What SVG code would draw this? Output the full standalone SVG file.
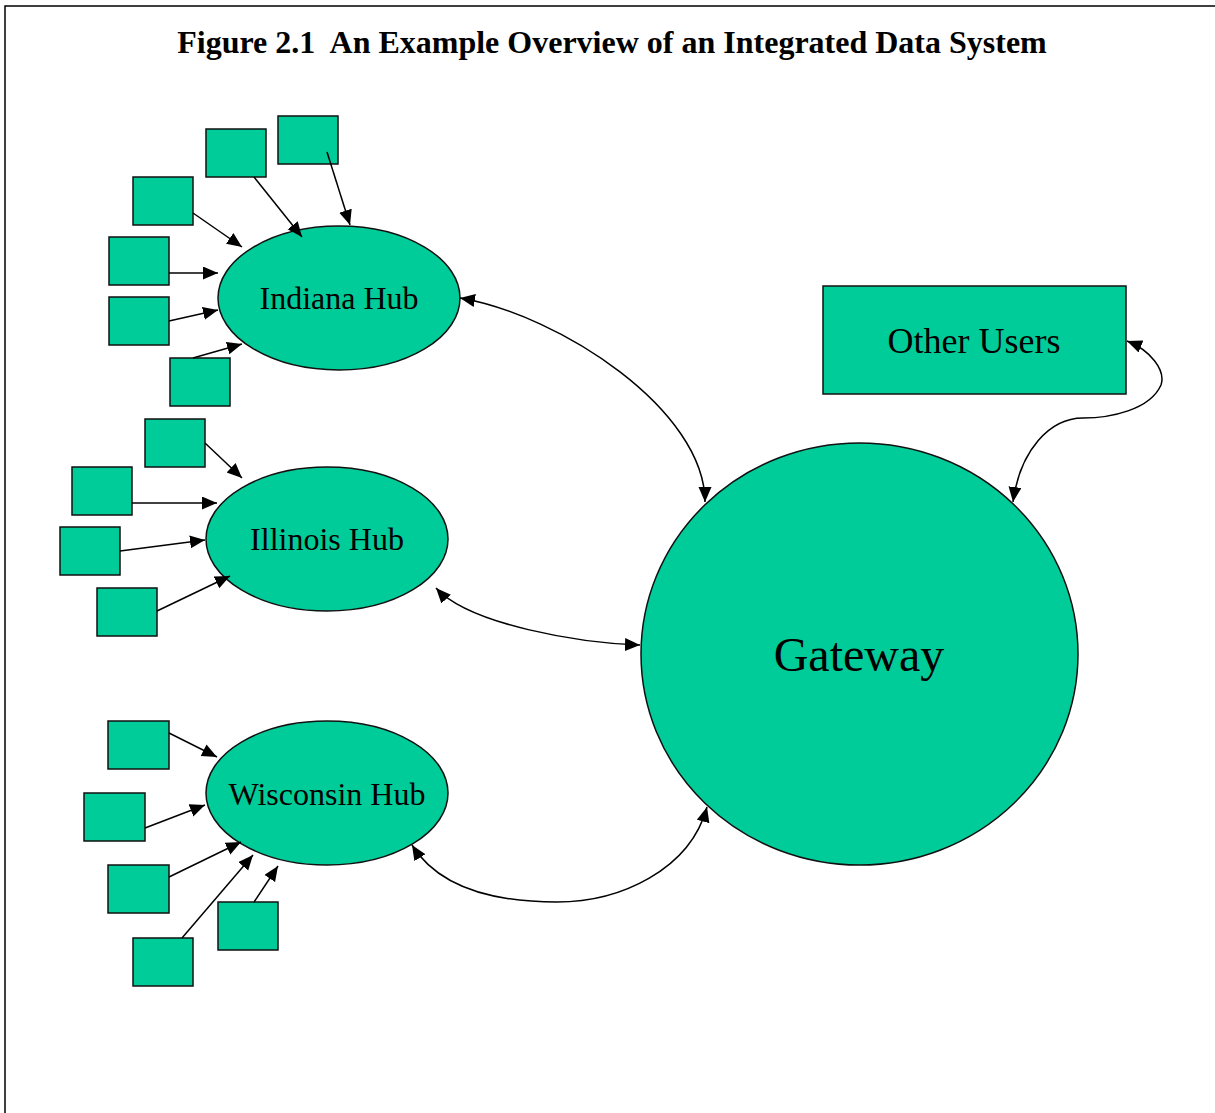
<svg xmlns="http://www.w3.org/2000/svg" width="1215" height="1113" viewBox="0 0 1215 1113">
<style>
.node{fill:#00CC99;stroke:#111;stroke-width:1.5}
.lbl{font-family:"Liberation Serif","Times New Roman",serif;fill:#000;text-anchor:middle}
.edge{fill:none;stroke:#000;stroke-width:1.5}
</style>
<defs>
<marker id="ah" markerUnits="userSpaceOnUse" markerWidth="16" markerHeight="14" refX="15" refY="6.5" orient="auto-start-reverse">
<path d="M0,0 L15,6.5 L0,13 z" fill="#000"/>
</marker>
</defs>
<rect x="0" y="0" width="1215" height="1113" fill="#fff"/>
<path d="M5,1113 V6 H1215" fill="none" stroke="#000" stroke-width="1.5"/>
<text x="612" y="53" class="lbl" font-size="32" font-weight="bold" style="white-space:pre">Figure 2.1  An Example Overview of an Integrated Data System</text>

<g id="indiana-hub"><ellipse class="node" cx="339" cy="298" rx="121" ry="72"/><text class="lbl" x="339" y="309" font-size="32">Indiana Hub</text></g>
<g id="illinois-hub"><ellipse class="node" cx="327" cy="539" rx="121" ry="72"/><text class="lbl" x="327" y="550" font-size="32">Illinois Hub</text></g>
<g id="wisconsin-hub"><ellipse class="node" cx="327" cy="793" rx="121" ry="72"/><text class="lbl" x="327" y="805" font-size="32">Wisconsin Hub</text></g>
<g id="gateway"><ellipse class="node" cx="859.5" cy="654" rx="218.5" ry="211"/><text class="lbl" x="859" y="671" font-size="48">Gateway</text></g>
<g id="other-users"><rect class="node" x="823" y="286" width="303" height="108"/><text class="lbl" x="974" y="353" font-size="36">Other Users</text></g>

<g id="in-src1"><rect class="node" x="206" y="129" width="60" height="48"/></g>
<g id="in-src2"><rect class="node" x="278" y="116" width="60" height="48"/></g>
<g id="in-src3"><rect class="node" x="133" y="177" width="60" height="48"/></g>
<g id="in-src4"><rect class="node" x="109" y="237" width="60" height="48"/></g>
<g id="in-src5"><rect class="node" x="109" y="297" width="60" height="48"/></g>
<g id="in-src6"><rect class="node" x="170" y="358" width="60" height="48"/></g>

<g id="il-src1"><rect class="node" x="145" y="419" width="60" height="48"/></g>
<g id="il-src2"><rect class="node" x="72" y="467" width="60" height="48"/></g>
<g id="il-src3"><rect class="node" x="60" y="527" width="60" height="48"/></g>
<g id="il-src4"><rect class="node" x="97" y="588" width="60" height="48"/></g>

<g id="wi-src1"><rect class="node" x="108" y="721" width="61" height="48"/></g>
<g id="wi-src2"><rect class="node" x="84" y="793" width="61" height="48"/></g>
<g id="wi-src3"><rect class="node" x="108" y="865" width="61" height="48"/></g>
<g id="wi-src4"><rect class="node" x="133" y="938" width="60" height="48"/></g>
<g id="wi-src5"><rect class="node" x="218" y="902" width="60" height="48"/></g>

<g id="connectors">
<path class="edge" marker-end="url(#ah)" d="M254,177 L302,237"/>
<path class="edge" marker-end="url(#ah)" d="M327,152 L350,225"/>
<path class="edge" marker-end="url(#ah)" d="M193,213 L242,247"/>
<path class="edge" marker-end="url(#ah)" d="M169,273 L218,273"/>
<path class="edge" marker-end="url(#ah)" d="M169,321 L218,310"/>
<path class="edge" marker-end="url(#ah)" d="M193,358 L242,344"/>

<path class="edge" marker-end="url(#ah)" d="M205,443 L242,478"/>
<path class="edge" marker-end="url(#ah)" d="M132,503 L217,503"/>
<path class="edge" marker-end="url(#ah)" d="M120,551 L205,540"/>
<path class="edge" marker-end="url(#ah)" d="M157,611 L230,576"/>

<path class="edge" marker-end="url(#ah)" d="M169,733 L217,757"/>
<path class="edge" marker-end="url(#ah)" d="M145,828 L205,805"/>
<path class="edge" marker-end="url(#ah)" d="M169,877 L241,842"/>
<path class="edge" marker-end="url(#ah)" d="M182,938 L253,855"/>
<path class="edge" marker-end="url(#ah)" d="M254,902 L278,866"/>

<path class="edge" marker-start="url(#ah)" marker-end="url(#ah)" d="M460,298 C560,315 705,410 705,502"/>
<path class="edge" marker-start="url(#ah)" marker-end="url(#ah)" d="M436,588 C470,625 580,643 640,645"/>
<path class="edge" marker-start="url(#ah)" marker-end="url(#ah)" d="M412,845 C440,890 500,902 557,902 C620,902 690,870 707,807"/>
<path class="edge" marker-start="url(#ah)" marker-end="url(#ah)" d="M1127,341 C1150,350 1166,370 1161,385 C1150,410 1110,418 1083,418 C1050,418 1020,450 1013,502"/>
</g>
</svg>
